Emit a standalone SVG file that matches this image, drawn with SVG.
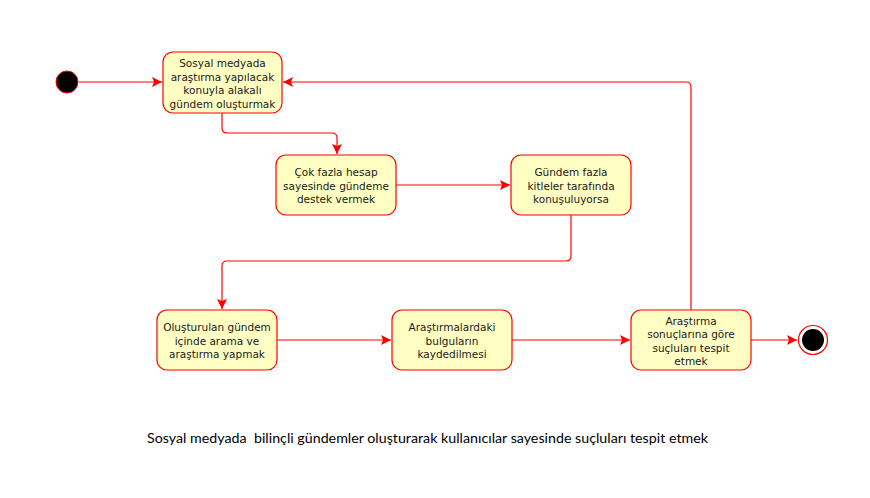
<svg xmlns="http://www.w3.org/2000/svg" width="870" height="498" viewBox="0 0 870 498">
<defs>
<style>
.n{fill:#FFFFC4;stroke:#FF0000;stroke-width:1.2}
.t{font-family:"DejaVu Sans",Verdana,sans-serif;font-size:10.5px;fill:#1a1a1a;text-anchor:middle}
.c{fill:none;stroke:#FF0000;stroke-width:1.2}
.cap{font-family:Lato,"Liberation Sans",sans-serif;font-size:13px;fill:#000;white-space:pre}
</style>
<marker id="a" viewBox="0 0 10 10" refX="10" refY="5" markerWidth="10" markerHeight="10" markerUnits="userSpaceOnUse" orient="auto">
<path d="M0,0 L10,5 L0,10 L2,5 Z" fill="#FF0000"/>
</marker>
</defs>
<rect width="870" height="498" fill="#fff"/>
<g id="connectors">
<path class="c" d="M79,82 H162" marker-end="url(#a)"/>
<path class="c" d="M222,113 V128 Q222,133 227,133 H332 Q337,133 337,138 V154" marker-end="url(#a)"/>
<path class="c" d="M396,185 H510" marker-end="url(#a)"/>
<path class="c" d="M571,215 V256 Q571,261 566,261 H227 Q222,261 222,266 V309" marker-end="url(#a)"/>
<path class="c" d="M277,340 H391" marker-end="url(#a)"/>
<path class="c" d="M512,340 H630" marker-end="url(#a)"/>
<path class="c" d="M691,310 V87 Q691,82 686,82 H283" marker-end="url(#a)"/>
<path class="c" d="M751,340 H797" marker-end="url(#a)"/>
</g>
<g id="start"><circle cx="67" cy="82" r="11" fill="#000" stroke="#FF0000" stroke-width="1"/></g>
<g id="n1"><rect class="n" x="163" y="52" width="119" height="61" rx="10"/>
<text class="t" x="222.5" y="67">Sosyal medyada</text>
<text class="t" x="222.5" y="80.5">araştırma yapılacak</text>
<text class="t" x="222.5" y="94">konuyla alakalı</text>
<text class="t" x="222.5" y="107.5">gündem oluşturmak</text></g>
<g id="n2"><rect class="n" x="276" y="155" width="120" height="60" rx="10"/>
<text class="t" x="336" y="176">Çok fazla hesap</text>
<text class="t" x="336" y="189.5">sayesinde gündeme</text>
<text class="t" x="336" y="203">destek vermek</text></g>
<g id="n3"><rect class="n" x="511" y="155" width="120" height="60" rx="10"/>
<text class="t" x="571" y="176">Gündem fazla</text>
<text class="t" x="571" y="189.5">kitleler tarafında</text>
<text class="t" x="571" y="203">konuşuluyorsa</text></g>
<g id="n4"><rect class="n" x="157" y="310" width="120" height="60" rx="10"/>
<text class="t" x="217" y="331">Oluşturulan gündem</text>
<text class="t" x="217" y="344.5">içinde arama ve</text>
<text class="t" x="217" y="358">araştırma yapmak</text></g>
<g id="n5"><rect class="n" x="392" y="310" width="120" height="60" rx="10"/>
<text class="t" x="452" y="331">Araştırmalardaki</text>
<text class="t" x="452" y="344.5">bulguların</text>
<text class="t" x="452" y="358">kaydedilmesi</text></g>
<g id="n6"><rect class="n" x="631" y="310" width="120" height="60" rx="10"/>
<text class="t" x="691" y="324.5">Araştırma</text>
<text class="t" x="691" y="338">sonuçlarına göre</text>
<text class="t" x="691" y="351.5">suçluları tespit</text>
<text class="t" x="691" y="365">etmek</text></g>
<g id="end"><circle cx="813" cy="340" r="14.5" fill="#fff" stroke="#FF0000" stroke-width="1.2"/><circle cx="813" cy="340" r="11" fill="#000"/></g>
<text class="cap" x="147" y="443" textLength="561" lengthAdjust="spacingAndGlyphs">Sosyal medyada  bilinçli gündemler oluşturarak kullanıcılar sayesinde suçluları tespit etmek</text>
</svg>
